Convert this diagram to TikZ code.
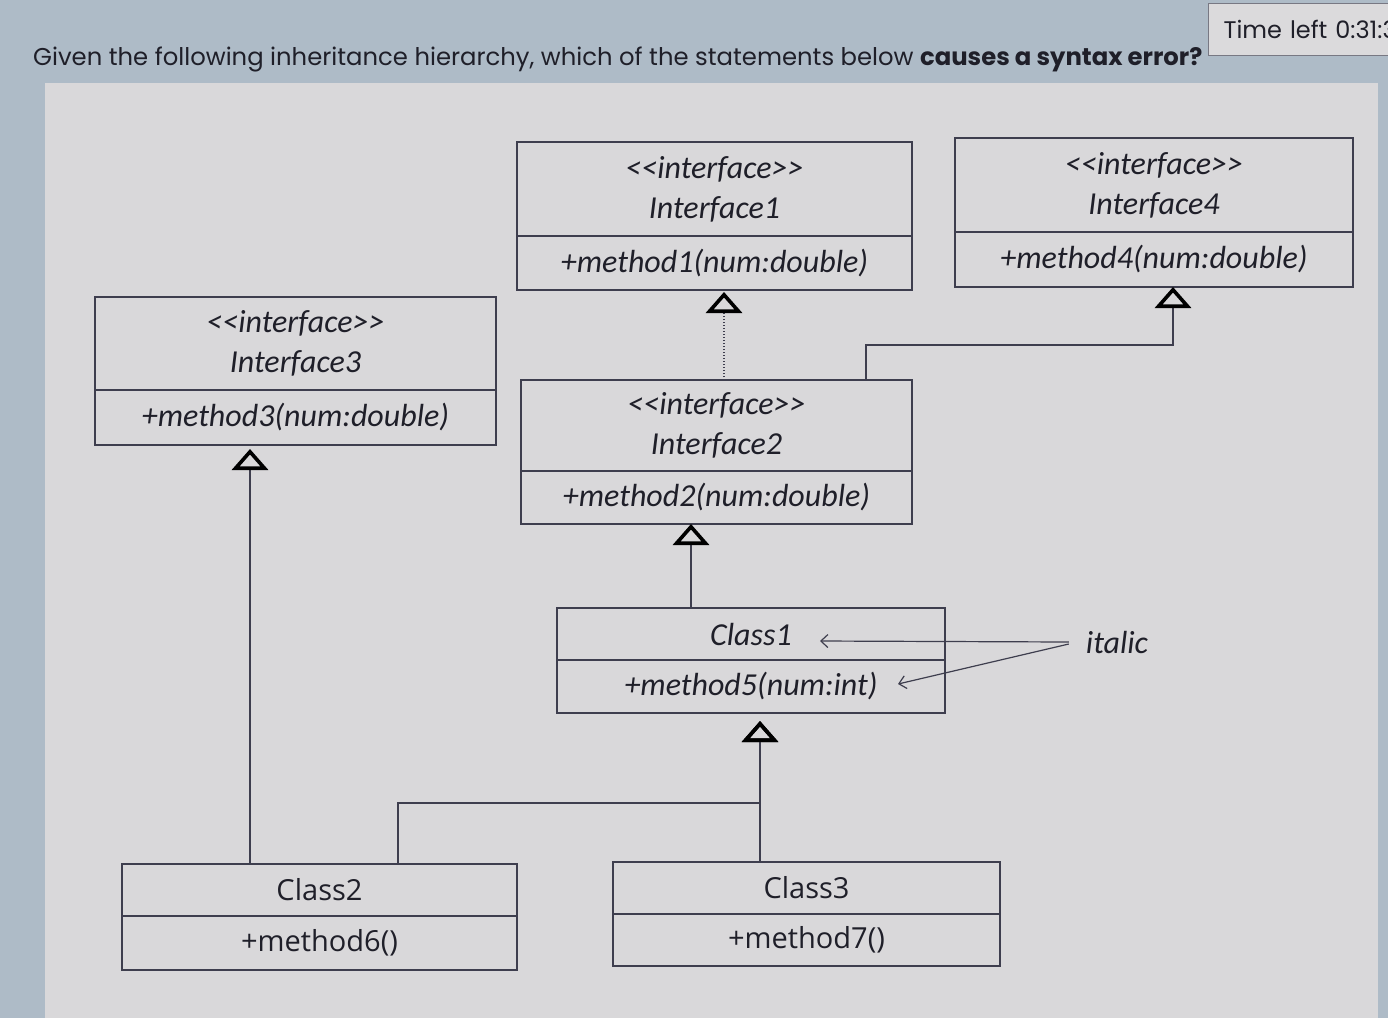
\documentclass[tikz,border=0pt]{standalone}
\usepackage{fontspec}
\setmainfont{Poppins}
\newfontfamily\umlfont{Carlito}
\newfontfamily\clsfont{Open Sans}
\usetikzlibrary{positioning,arrows.meta}
\definecolor{scrn}{HTML}{AEBBC7}
\definecolor{panel}{HTML}{D9D8DA}
\definecolor{umlline}{HTML}{3E3E4E}
\definecolor{ink}{HTML}{1F1F29}
\tikzset{
  box/.style={draw=umlline, line width=1.8pt, fill=panel, outer sep=0pt,
              inner sep=0pt, align=center, text=ink},
  uml/.style={font=\umlfont\itshape\fontsize{32}{40}\selectfont},
  cls/.style={font=\clsfont\fontsize{29}{34}\selectfont}
}

\begin{document}
\begin{tikzpicture}[
  x=1pt, y=-1pt,
  % header part of a class box
  hd/.style   = {box, minimum height=#1},
  % operations part of a class box
  bd/.style   = {box, minimum height=#1},
  % generalisation connector (hollow triangle at the parent)
  inh/.style  = {draw=umlline, line width=1.5pt,
                 -{Triangle[open, length=21pt, width=36pt, line width=3.6pt, color=black]}},
  % pointer of the side note
  nt/.style   = {draw=umlline, line width=1.2pt,
                 -{Straight Barb[length=7pt, width=13pt, line width=1.2pt]}},
]
\useasboundingbox (0,0) rectangle (1388,1018);

% ---- screen and panel
\fill[scrn] (0,0) rectangle (1388,1018);
\fill[panel] (45,83) rectangle (1378,1018);

\node[draw=umlline!70, line width=1pt, fill=panel!95!white, anchor=north west,
      minimum height=52, minimum width=200, text=ink, inner xsep=15pt,
      font=\fontsize{24}{28}\selectfont, text width=200, align=left] (time)
  at (1208,3) {Time left 0:31:3};

\node[anchor=west, text=ink, inner sep=0pt, font=\fontsize{24.3}{30}\selectfont] (quest)
  at (33,59) {Given the following inheritance hierarchy, which of the statements below \textbf{causes a syntax error?}};

% ---- interfaces
\node[hd=94, uml, minimum width=395] (i1h) at (714.5,189) {<{}<interface>{}>\\Interface1};
\node[bd=54, uml, minimum width=395, below=0pt of i1h] (i1b) {+method1(num:double)};

\node[hd=94, uml, minimum width=398] (i4h) at (1154,185) {<{}<interface>{}>\\Interface4};
\node[bd=55, uml, minimum width=398, below=0pt of i4h] (i4b) {+method4(num:double)};

\node[hd=93, uml, minimum width=401] (i3h) at (295.5,343.5) {<{}<interface>{}>\\Interface3};
\node[bd=55, uml, minimum width=401, below=0pt of i3h] (i3b) {+method3(num:double)};

\node[hd=91, uml, minimum width=391] (i2h) at (716.5,425.5) {<{}<interface>{}>\\Interface2};
\node[bd=53, uml, minimum width=391, below=0pt of i2h] (i2b) {+method2(num:double)};

% ---- classes
\node[hd=52, uml, minimum width=388] (c1h) at (751,634) {Class1};
\node[bd=53, uml, minimum width=388, below=0pt of c1h] (c1b) {+method5(num:int)};

\node[hd=52, cls, minimum width=395] (c2h) at (319.5,890) {Class2};
\node[bd=54, cls, minimum width=395, below=0pt of c2h] (c2b) {+method6()};

\node[hd=52, cls, minimum width=387] (c3h) at (806.5,888) {Class3};
\node[bd=52, cls, minimum width=387, below=0pt of c3h] (c3b) {+method7()};

% ---- generalisations
\draw[inh, dash pattern=on 1.5pt off 1.5pt, shorten >=2pt]
  ([xshift=7.5pt]i2h.north) -- ([xshift=9.5pt]i1b.south);
\draw[inh] ([xshift=149.5pt]i2h.north) -- ++(0,-35) -| ([xshift=19pt]i4b.south);
\draw[inh, shorten >=4pt] ([xshift=-69.5pt]c2h.north) -- ([xshift=-45.5pt]i3b.south);
\draw[inh] ([xshift=-60pt]c1h.north) -- ([xshift=-25.5pt]i2b.south);
\draw[inh, shorten >=8pt] ([xshift=-46.5pt]c3h.north) -- ([xshift=9pt]c1b.south);
\draw[inh, shorten >=8pt] ([xshift=78.5pt]c2h.north) -- ++(0,-61) -| ([xshift=9pt]c1b.south);

% ---- side note
\node[uml, text=ink, inner sep=0pt] (note) at (1117,642) {italic};
\coordinate (nta) at (820,641);
\coordinate (ntb) at (898,684);
\draw[nt] ([xshift=-17pt]note.west) -- (nta);
\draw[nt] ([xshift=-17pt,yshift=-2pt]note.west) -- (ntb);

\end{tikzpicture}
\end{document}
